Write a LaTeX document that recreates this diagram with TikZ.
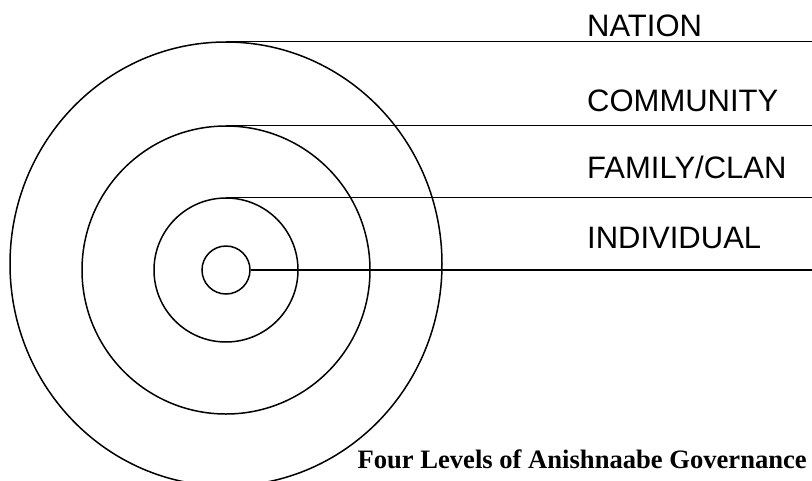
\documentclass[tikz,border=0pt]{standalone}
\usepackage{fontspec}
\setmainfont{Liberation Sans}
\newfontfamily\captionserif{Liberation Serif}
\usetikzlibrary{positioning,shapes.geometric}
\tikzset{
    ring/.style={
        draw, circle, line width=1.5pt, inner sep=0pt
    },
    outerring/.style={
        draw, ellipse, line width=1.5pt, inner sep=0pt,
        minimum width=432pt, minimum height=444pt
    },
    levelline/.style={line width=1.5pt},
    levellabel/.style={
        anchor=base west, inner sep=0pt,
        font=\fontsize{31}{31}\selectfont
    },
    titlelabel/.style={
        anchor=base east, inner sep=0pt,
        font=\captionserif\bfseries\fontsize{26.6}{27}\selectfont
    },
}

\begin{document}
\begin{tikzpicture}[x=1pt, y=-1pt]
    \useasboundingbox (0,0) rectangle (812,480);
    \coordinate (rightedge) at (812,0);
    % the four rings
    \node[outerring] (nation) at (226,264) {};
    \node[ring, minimum size=288pt] (community) at (226,270) {};
    \node[ring, minimum size=144pt] (family) at (226,270) {};
    \node[ring, minimum size=48pt] (individual) at (226,270) {};
    % lines out to the right
    \draw[levelline] (nation.north) -- (nation.north -| rightedge);
    \draw[levelline] (community.north) -- (community.north -| rightedge);
    \draw[levelline] (family.north) -- (family.north -| rightedge);
    \draw[levelline] (individual.east) -- (individual.east -| rightedge);
    % labels
    \node[levellabel] (nationlbl) at (587,36.7) {NATION};
    \node[levellabel] (communitylbl) at (587,111.7) {COMMUNITY};
    \node[levellabel] (familylbl) at (587,178.3) {FAMILY/CLAN};
    \node[levellabel] (individuallbl) at (587,248.3) {INDIVIDUAL};
    \node[titlelabel] (title) at (807,468) {Four Levels of Anishnaabe Governance};
\end{tikzpicture}
\end{document}
